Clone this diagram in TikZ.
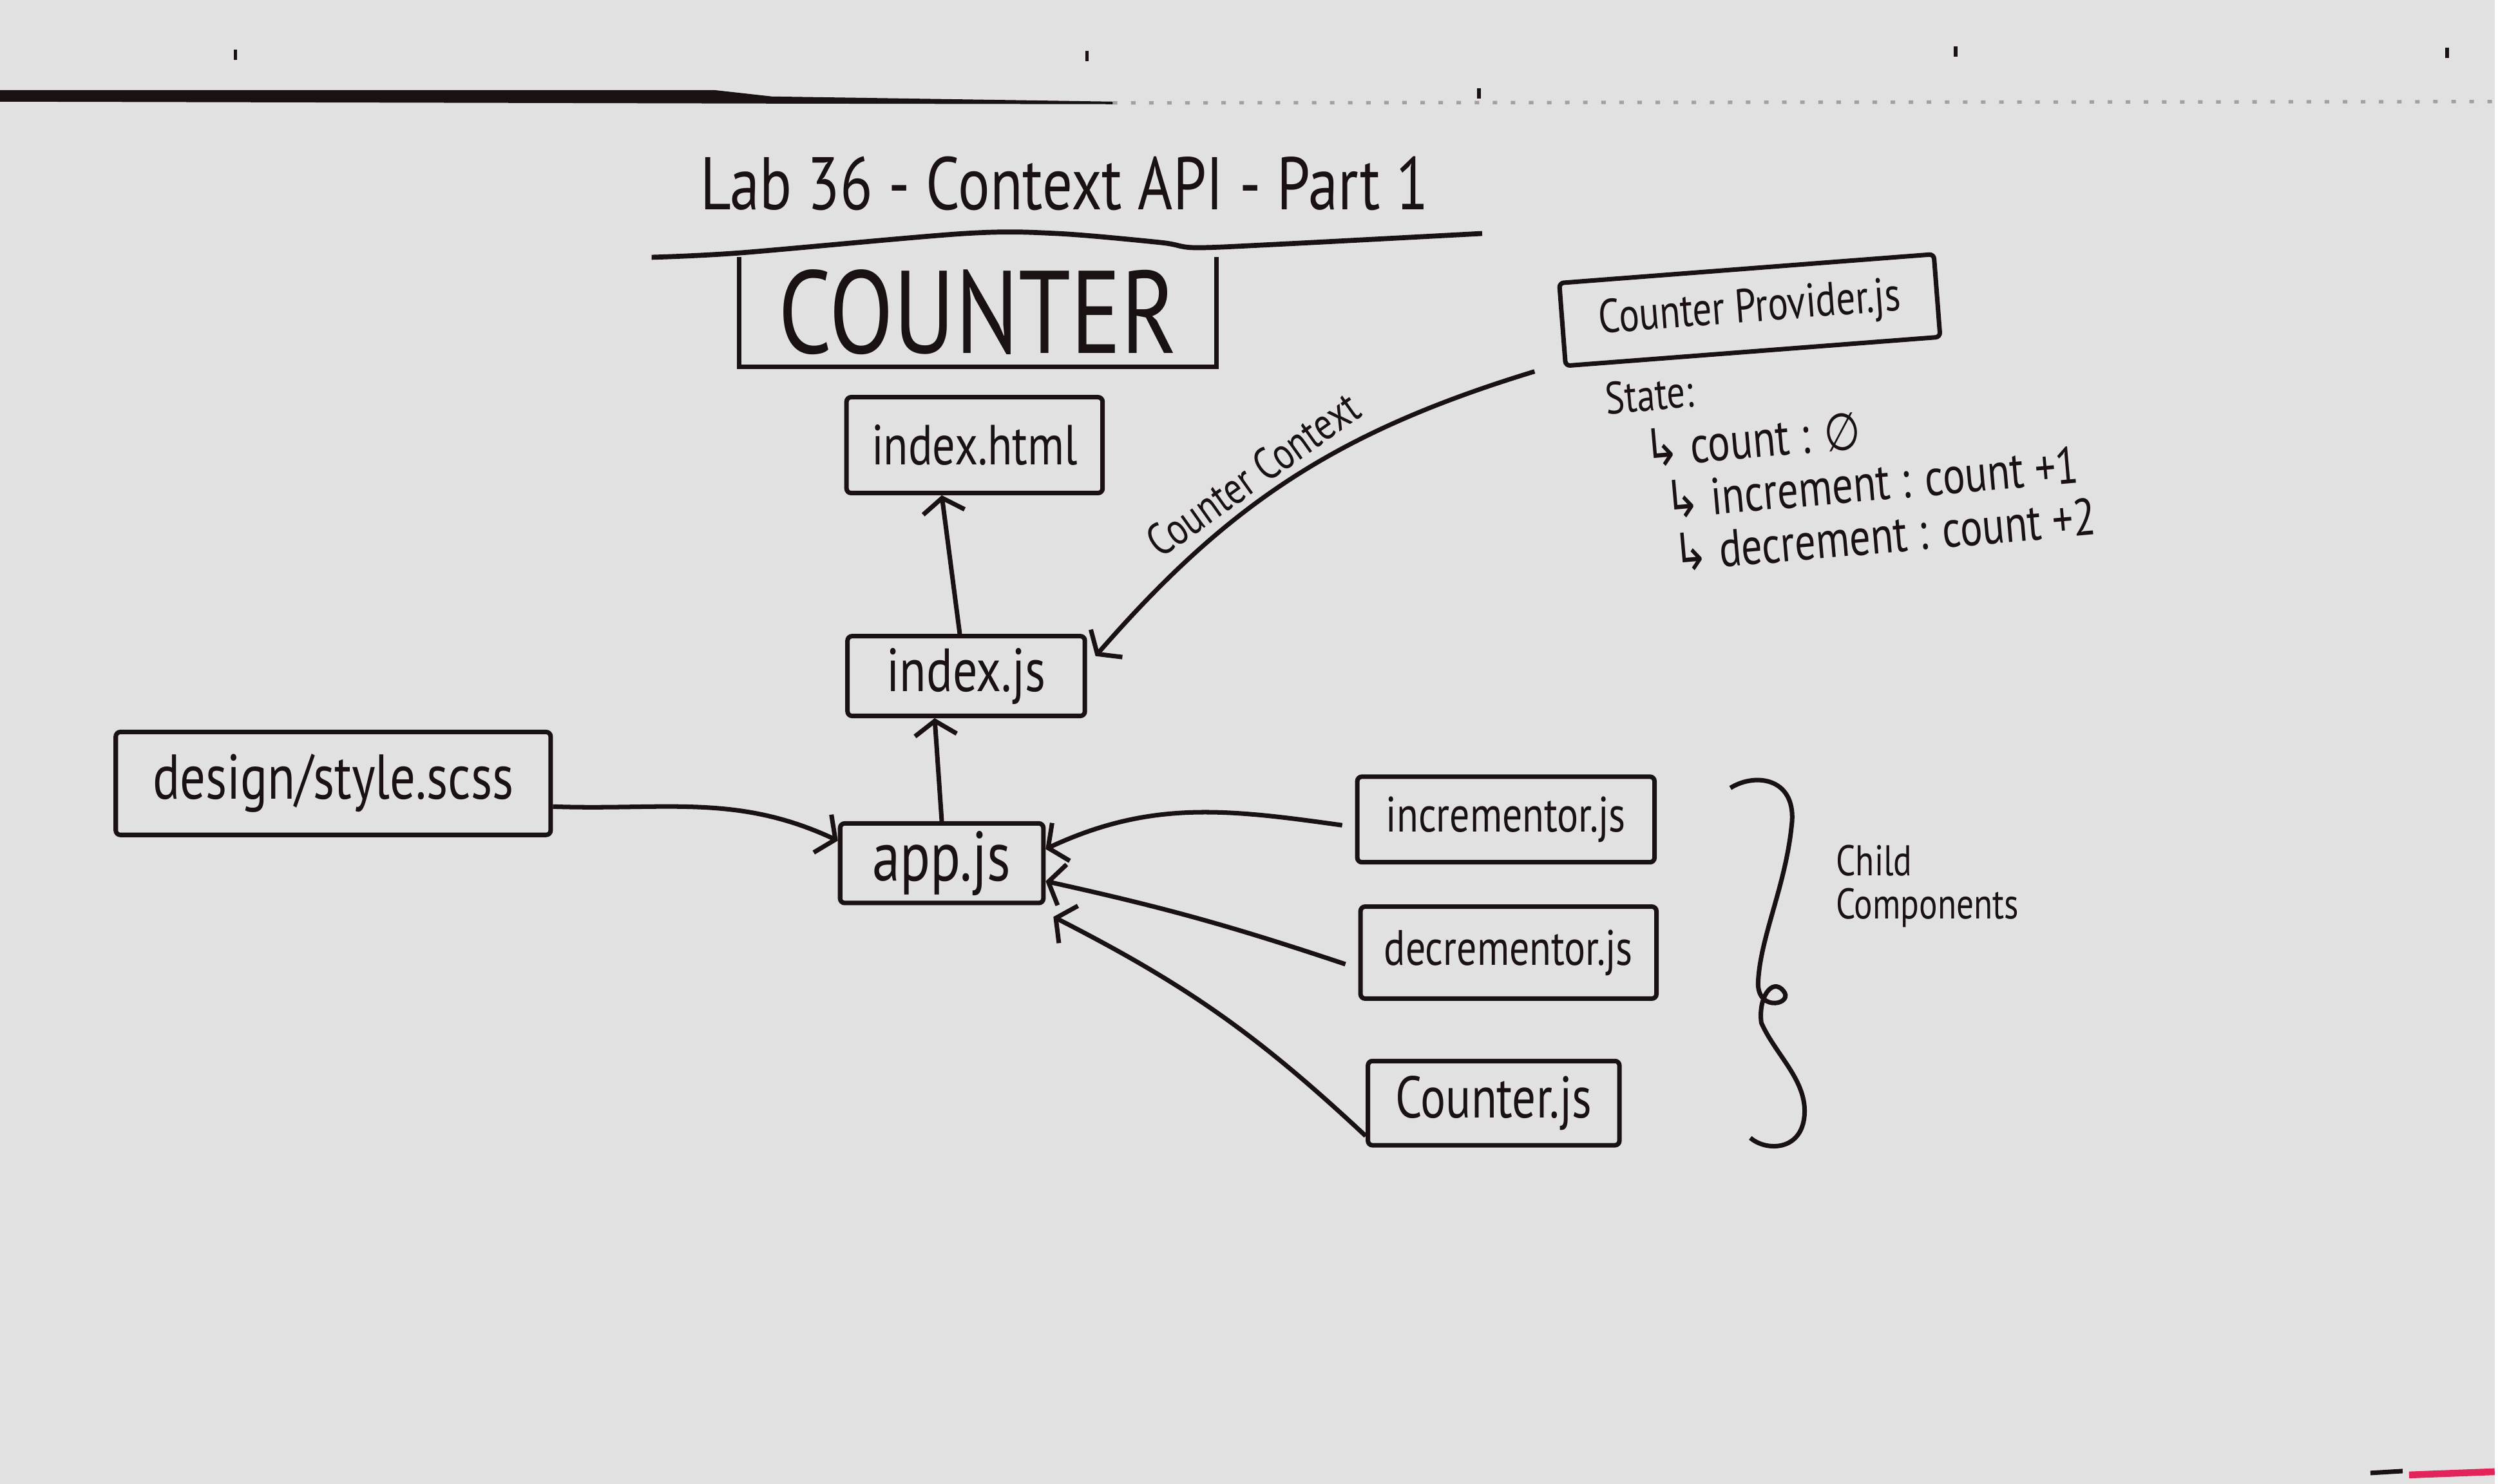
\documentclass[tikz,border=0pt]{standalone}
\usepackage{fontspec}
\setmainfont{PT Sans}[FakeStretch=0.8]
\newfontfamily\djvfont{DejaVu Sans}[FakeStretch=0.8]
\usetikzlibrary{arrows.meta}
\definecolor{board}{HTML}{E1E1E1}
\definecolor{ink}{HTML}{1A1212}
\definecolor{pinkmark}{HTML}{E2245A}

\begin{document}
\begin{tikzpicture}[
    file/.style={draw=ink, line width=2pt, rounded corners=2pt, text=ink, font=\fontsize{#1}{#1}\selectfont},
    file/.default=22,
    hand/.style={text=ink, inner sep=1pt, font=\fontsize{#1}{#1}\selectfont},
    arr/.style={draw=ink, line width=2pt, -{Straight Barb[length=2.2mm,width=6.5mm]}}]
    \fill[board] (0,0) rectangle (38.78,-23.07);
% top edge of the board
\fill[ink] (0,-1.40) -- (11.1,-1.40) -- (12.0,-1.50) -- (17.3,-1.58) -- (17.3,-1.62) -- (12.0,-1.61) -- (0,-1.58) -- cycle;
\draw[ink!40, line width=1.5pt, dash pattern=on 2pt off 6pt] (17.3,-1.60) -- (38.78,-1.58);
\foreach \x/\y in {3.66/0.85, 16.90/0.87, 30.40/0.80, 38.04/0.82, 22.99/1.45}
    \draw[ink, line width=1.5pt] (\x,-\y+0.08) -- (\x,-\y-0.08);

% title
\node[hand=33] (title) at (16.55,-2.85) {Lab 36 - Context API - Part 1};
\draw[ink, line width=2.2pt] plot[smooth] coordinates {(10.13,-4.00) (11.52,-3.93) (15.0,-3.63) (16.43,-3.63) (18.04,-3.77) (18.57,-3.85) (19.82,-3.80) (23.04,-3.63)};
\node[hand=52, minimum width=7.4cm, minimum height=1.7cm] (counter) at (15.2,-4.85) {COUNTER};
\draw[ink, line width=2pt] (counter.north west) -- (counter.south west) -- (counter.south east) -- (counter.north east);

% files
\node[file=25, minimum width=3.98cm, minimum height=1.49cm] (indexhtml) at (15.15,-6.92) {index.html};
\node[file=27, minimum width=3.69cm, minimum height=1.24cm] (indexjs) at (15.02,-10.51) {index.js};
\node[file=31, minimum width=3.16cm, minimum height=1.21cm] (appjs) at (14.64,-13.42) {app.js};
\node[file=28, minimum width=6.76cm, minimum height=1.60cm] (design) at (5.18,-12.18) {design/style.scss};
\node[file, minimum width=4.62cm, minimum height=1.33cm] (incr) at (23.41,-12.74) {incrementor.js};
\node[file, minimum width=4.60cm, minimum height=1.43cm] (decr) at (23.45,-14.81) {decrementor.js};
\node[file=26, minimum width=3.91cm, minimum height=1.31cm] (counterjs) at (23.22,-17.15) {Counter.js};
\node[file=21, rotate=4.4, minimum width=5.84cm, minimum height=1.29cm] (provider) at (27.20,-4.82) {Counter Provider.js};

% provider state
\node[hand=20, anchor=west, rotate=5] (state) at (24.92,-6.20) {State:};
\node[hand=23, anchor=west, rotate=5] (cnt) at (25.52,-6.98) {{\djvfont ↳} count : {\djvfont ∅}};
\node[hand=23, anchor=west, rotate=5] (inc) at (25.84,-7.78) {{\djvfont ↳} increment : count +1};
\node[hand=23, anchor=west, rotate=5] (dec) at (25.97,-8.60) {{\djvfont ↳} decrement : count +2};

% connectors
\draw[arr] ([xshift=-0.10cm]indexjs.north) -- ([xshift=-0.51cm]indexhtml.south);
\draw[arr] (appjs.north) -- ([xshift=-0.49cm]indexjs.south);
\draw[arr] ([yshift=-0.36cm]design.east) to[out=-2, in=155] ([yshift=0.35cm]appjs.west);
\draw[arr] ([shift={(-0.2,-0.09)}]incr.west) to[out=172, in=25] ([yshift=0.22cm]appjs.east);
\draw[arr] ([shift={(-0.2,-0.18)}]decr.west) to[bend right=3] ([yshift=-0.28cm]appjs.east);
\draw[arr] ([yshift=0.18cm]counterjs.south west) to[bend right=8] ([shift={(0.12,-0.18)}]appjs.south east);
\draw[arr] ([shift={(-0.45,-0.05)}]provider.south west) to[bend right=16]
    node[hand=20, pos=0.56, sloped, above=2pt] (ctx) {Counter Context} ([shift={(0.13,0.31)}]indexjs.east);

% brace round the child components
\draw[ink, line width=2pt] (26.90,-12.25) .. controls (27.3,-12.0) and (27.95,-12.1) .. (27.85,-12.85)
    .. controls (27.75,-13.8) and (27.35,-14.6) .. (27.33,-15.3)
    .. controls (27.34,-15.75) and (27.9,-15.6) .. (27.72,-15.4)
    .. controls (27.55,-15.2) and (27.33,-15.5) .. (27.38,-15.9)
    .. controls (27.6,-16.4) and (28.1,-16.8) .. (28.05,-17.35)
    .. controls (28.0,-17.9) and (27.45,-17.9) .. (27.21,-17.69);
\node[hand=19, anchor=north west, align=left] (child) at (28.50,-13.10) {Child\\Components};

% marks in the corner
\draw[ink, line width=2pt] (36.85,-22.90) -- (37.35,-22.87);
\draw[pinkmark, line width=3pt] (37.45,-22.93) -- (38.78,-22.88);
    \end{tikzpicture}
\end{document}
